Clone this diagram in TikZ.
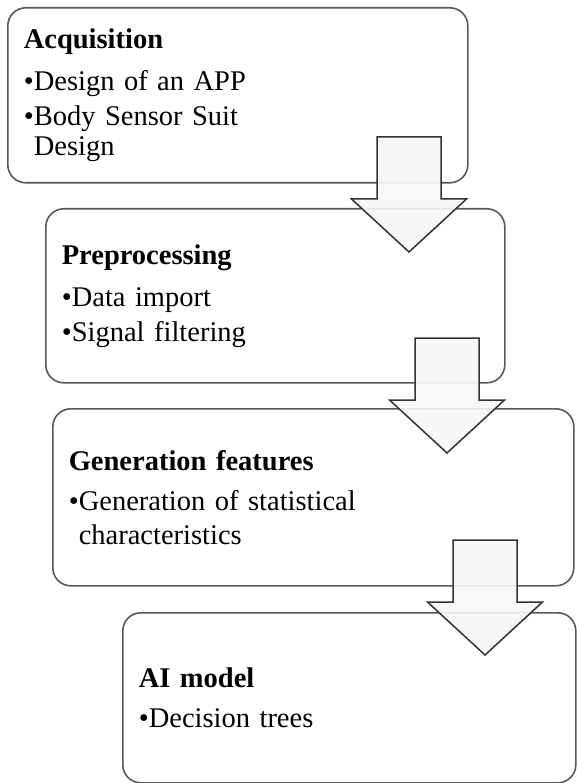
\documentclass[tikz,border=0pt]{standalone}
\usepackage{fontspec}
\setmainfont{Liberation Serif}

\begin{document}
\begin{tikzpicture}[line cap=round,line join=round,x=1pt,y=-1pt,
	stage/.style={draw=black!65,line width=1.6pt,rounded corners=18pt,fill=white,anchor=north west,
		inner xsep=16pt,inner ysep=0pt,align=left,font=\fontsize{28.5}{34}\selectfont},
	downarrow/.style={draw=black!80,line width=1.5pt,fill=black!3,fill opacity=0.9,line join=miter}]
	\useasboundingbox (0,0) rectangle (576,783);
	% stages
	\node[stage,text width=428pt,minimum height=175pt] (acq) at (7,7)
		{\textbf{Acquisition}\\[8pt]•Design of an APP\\[1pt]•Body Sensor Suit\\[-4pt]\phantom{•}Design};
	\node[stage,text width=427pt,minimum height=174pt] (prep) at (45,208)
		{\textbf{Preprocessing}\\[8pt]•Data import\\[1pt]•Signal filtering};
	\node[stage,text width=489pt,minimum height=177pt] (feat) at (52,408)
		{\textbf{Generation features}\\[6pt]•Generation of statistical\\\phantom{•}characteristics};
	\node[stage,text width=421pt,minimum height=170pt] (aimodel) at (122,612)
		{\textbf{AI model}\\[6pt]•Decision trees};
	% block arrows between the stages
	\foreach \cx/\ty in {409/137,447/338,485/540}
		\draw[downarrow] (\cx-32,\ty) -- (\cx+32,\ty) -- (\cx+32,\ty+62) -- (\cx+57.5,\ty+62)
			-- (\cx,\ty+115) -- (\cx-57.5,\ty+62) -- (\cx-32,\ty+62) -- cycle;
\end{tikzpicture}
\end{document}
